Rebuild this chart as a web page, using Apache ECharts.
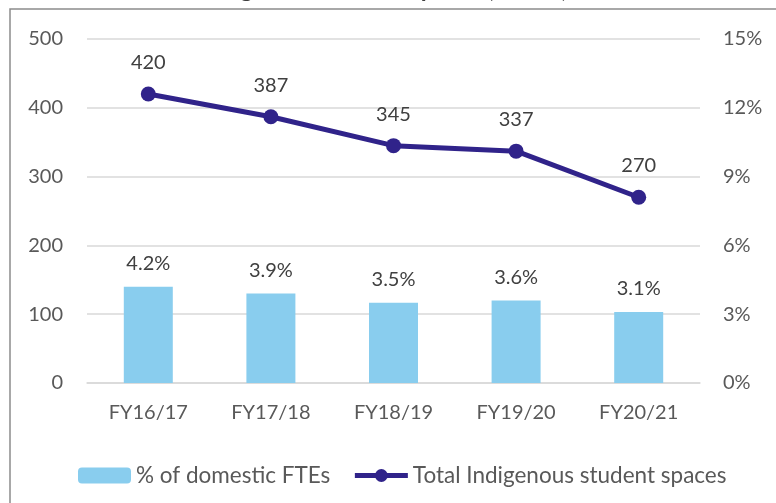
<!DOCTYPE html>
<html>
<head>
<meta charset="utf-8">
<script src="https://cdn.jsdelivr.net/npm/echarts@6/dist/echarts.min.js"></script>
<style>
  html, body { margin: 0; padding: 0; background: #fff; }
  #chart { width: 776px; height: 503px; }
</style>
</head>
<body>
<div id="chart"></div>
<script>
var years = ['FY16/17', 'FY17/18', 'FY18/19', 'FY19/20', 'FY20/21'];
var pctDomestic = [4.2, 3.9, 3.5, 3.6, 3.1];
var totalSpaces = [420, 387, 345, 337, 270];

var FONT = 'Lato';

var myChart = echarts.init(document.getElementById('chart'));

var option = {
  backgroundColor: '#fff',
  textStyle: { fontFamily: FONT },
  title: {
    text: 'Indigenous student spaces (EFTSL)',
    left: 195,
    top: -28,
    textStyle: { fontSize: 24, fontWeight: 'bold', color: '#404040', fontFamily: FONT }
  },
  graphic: [{
    type: 'rect',
    shape: { x: 10, y: 9, width: 800, height: 540 },
    style: { fill: '#fff', stroke: '#8c8c8c', lineWidth: 1.5 },
    z: -10,
    silent: true
  }],
  grid: { left: 87, right: 76, top: 39, bottom: 120 },
  legend: {
    left: 73,
    top: 459,
    itemWidth: 53,
    itemHeight: 16,
    itemGap: 22,
    textStyle: { fontSize: 22.5, color: '#595959', fontFamily: FONT },
    data: [
      { name: '% of domestic FTEs' },
      { name: 'Total Indigenous student spaces', lineStyle: { width: 5 } }
    ]
  },
  xAxis: {
    type: 'category',
    data: years,
    axisTick: { show: false },
    axisLine: { lineStyle: { color: '#d9d9d9', width: 1.5 } },
    axisLabel: { fontSize: 20, color: '#595959', margin: 20 }
  },
  yAxis: [{
    type: 'value',
    min: 0, max: 500, interval: 100,
    axisLabel: { fontSize: 20, color: '#595959', margin: 24 },
    splitLine: { lineStyle: { color: '#d9d9d9', width: 1.5 } },
    axisLine: { show: false }, axisTick: { show: false }
  }, {
    type: 'value',
    min: 0, max: 15, interval: 3,
    axisLabel: { fontSize: 20, color: '#595959', margin: 23, formatter: '{value}%' },
    splitLine: { show: false },
    axisLine: { show: false }, axisTick: { show: false }
  }],
  series: [{
    name: '% of domestic FTEs',
    type: 'bar',
    yAxisIndex: 1,
    data: pctDomestic,
    barWidth: 49,
    itemStyle: { color: '#89cdee' },
    label: {
      show: true, position: 'top', distance: 13,
      fontSize: 20, color: '#404040', formatter: '{c}%'
    }
  }, {
    name: 'Total Indigenous student spaces',
    type: 'line',
    yAxisIndex: 0,
    data: totalSpaces,
    symbol: 'circle',
    symbolSize: 15,
    lineStyle: { color: '#30238a', width: 5 },
    itemStyle: { color: '#30238a' },
    label: {
      show: true, position: 'top', distance: 14,
      fontSize: 20, color: '#404040'
    }
  }]
};

myChart.setOption(option);
</script>
</body>
</html>
